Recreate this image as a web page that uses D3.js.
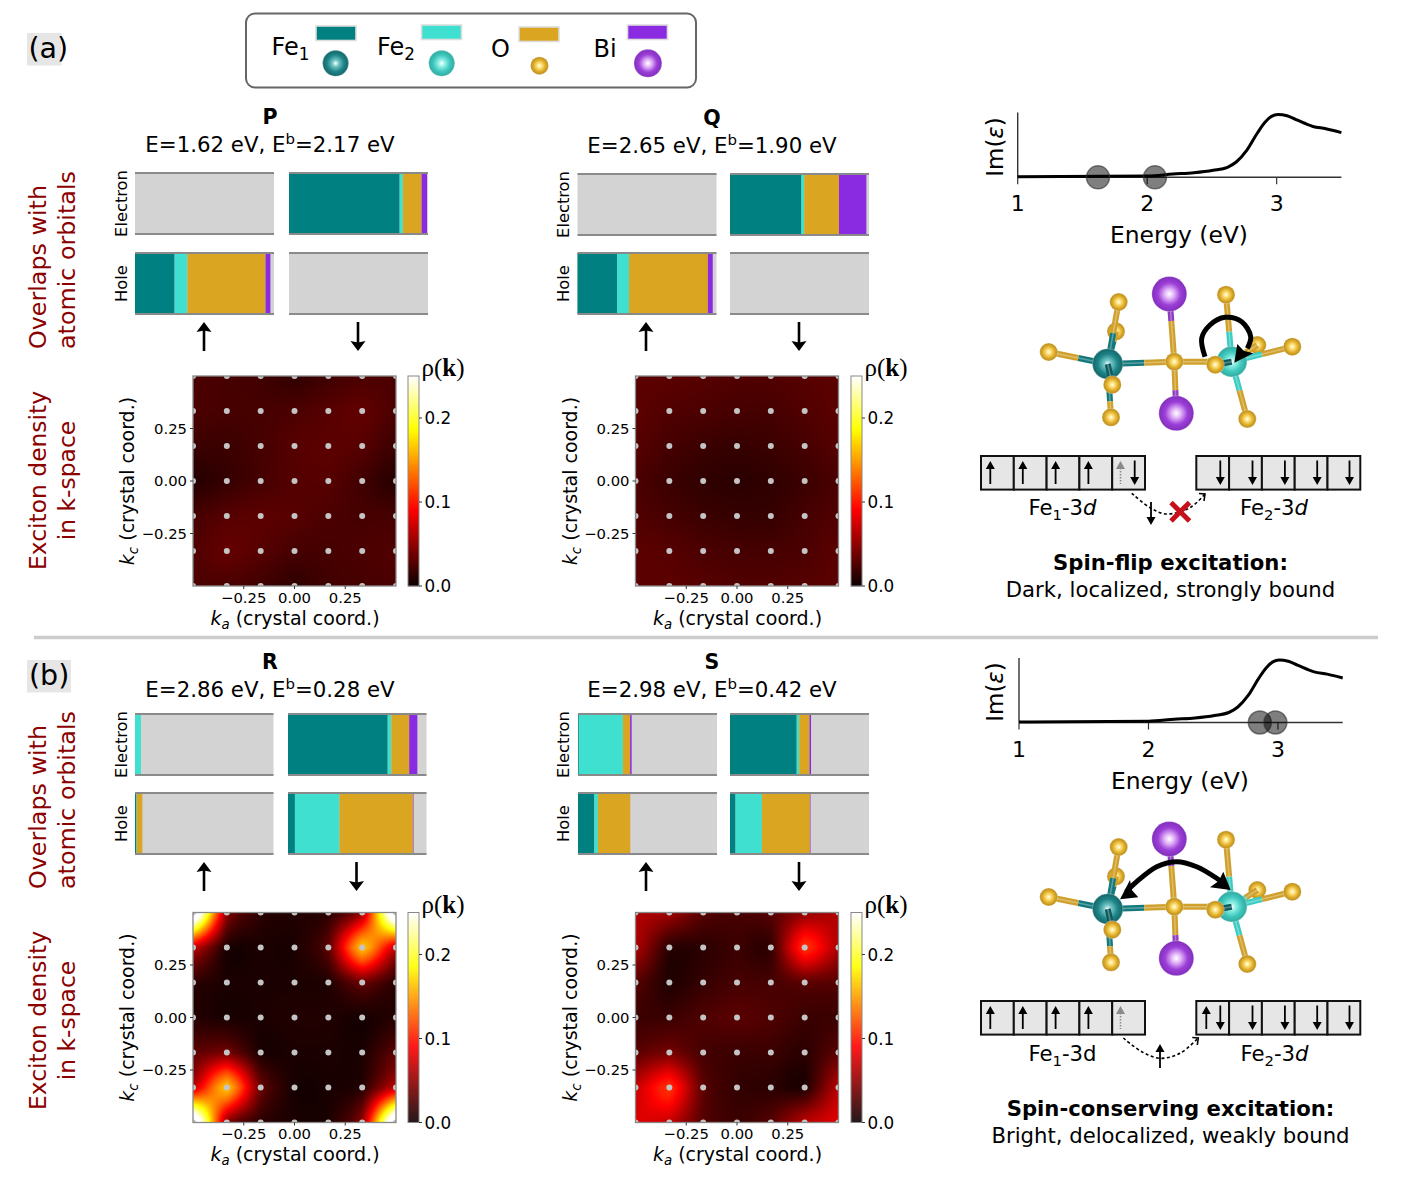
<!DOCTYPE html>
<html><head><meta charset="utf-8">
<script src="https://d3js.org/d3.v7.min.js"></script>
<style>html,body{margin:0;background:#fff;overflow:hidden}svg{display:block}text{font-family:"DejaVu Sans",sans-serif;fill:#000}</style>
</head><body><script>
// ---------- data ----------
const speciesNames = ["Fe1","Fe2","O","Bi"];
const speciesColors = ["#008080","#40e0d0","#daa520","#8a2be2"];
const excitonNames = ["P","Q","R","S"];
const excitonE = ["1.62","2.65","2.86","2.98"];
const excitonEb = ["2.17","1.90","0.28","0.42"];
// overlaps: [Fe1,Fe2,O,Bi] shares for electron up/down, hole up/down
const overlapP = [[0,0,0,0],[.796,.023,.135,.039],[.285,.092,.562,.035],[0,0,0,0]];
const overlapQ = [[0,0,0,0],[.514,.02,.25,.197],[.285,.086,.567,.035],[0,0,0,0]];
const overlapR = [[0,.043,0,0],[.72,.026,.129,.059],[.01,.003,.04,0],[.05,.322,.53,.004]];
const overlapS = [[.006,.317,.052,.011],[.48,.018,.074,.011],[.118,.026,.232,0],[.04,.19,.345,.004]];
// k-point grid and density on it (rows from +0.5 down to -0.5)
const kPoints = [-1/2,-1/3,-1/6,0,1/6,1/3,1/2];
const densityP = [
[.024,.022,.020,.014,.020,.024,.024],[.024,.022,.022,.024,.028,.032,.024],[.018,.018,.022,.028,.030,.028,.018],
[.010,.016,.022,.027,.028,.020,.010],[.022,.028,.030,.028,.024,.022,.022],[.026,.033,.028,.022,.022,.024,.026],[.024,.024,.020,.014,.020,.022,.024]];
const densityQ = [
[.030,.030,.028,.026,.026,.028,.030],[.030,.026,.024,.022,.022,.026,.030],[.028,.022,.018,.016,.018,.022,.028],
[.024,.018,.014,.012,.014,.018,.024],[.026,.022,.018,.016,.016,.022,.026],[.030,.028,.024,.022,.022,.024,.030],[.030,.030,.028,.026,.026,.028,.030]];
const densityR = [
[.31,.05,.012,.008,.012,.055,.31],[.07,.006,.006,.006,.03,.165,.07],[.012,.006,.006,.006,.008,.035,.012],
[.01,.005,.006,.008,.008,.004,.01],[.03,.04,.006,.006,.006,.006,.03],[.07,.165,.035,.004,.005,.01,.07],[.31,.05,.012,.006,.006,.05,.31]];
const densityS = [
[.062,.055,.028,.022,.028,.05,.062],[.06,.012,.012,.018,.015,.11,.06],[.028,.008,.016,.022,.022,.03,.028],
[.018,.018,.025,.029,.025,.018,.018],[.03,.04,.022,.018,.018,.012,.03],[.07,.11,.03,.015,.012,.008,.065],[.08,.07,.028,.018,.028,.065,.08]];
const kTicks = [-.25,0,.25];
const cbTicks = [0,.1,.2];
const cbMax = .25;
// absorption spectrum
const specE  = [1,2,2.2,2.36,2.51,2.62,2.69,2.77,2.85,2.91,2.96,3.01,3.08,3.15,3.28,3.38,3.5];
const specIm = [.008,.02,.05,.07,.108,.155,.24,.42,.68,.85,.94,.97,.95,.89,.785,.75,.69];
const specTicks = [1,2,3];
const markersA = [1.62,2.06];
const markersB = [2.86,2.98];

// ---------- helpers ----------
const svg = d3.select("body").append("svg").attr("width",1412).attr("height",1177);
const defs = svg.append("defs");
function rich(g,x,y,segs,o={}){
  const size=o.size||16, t=g.append("text").attr("x",x).attr("y",y).attr("font-size",size)
    .attr("text-anchor",o.anchor||"start");
  if(o.fill) t.style("fill",o.fill);
  if(o.family) t.style("font-family",o.family);
  if(o.rotate) t.attr("transform",`rotate(${o.rotate} ${x} ${y})`);
  let shift=0;
  (typeof segs==="string"?[{t:segs}]:segs).forEach(s=>{
    const want=s.sub?size*.22:s.sup?-size*.36:0;
    const sp=t.append("tspan").text(s.t).attr("dy",want-shift);
    shift=want;
    if(s.sub||s.sup) sp.attr("font-size",size*.7);
    if(s.i) sp.attr("font-style","italic");
    if(s.b||o.bold) sp.attr("font-weight","bold");
  });
  return t;
}
function ballGrad(id,c0,c1,c2){
  const g=defs.append("radialGradient").attr("id",id).attr("cx","50%").attr("cy","50%").attr("r","52%");
  [[0,"#fff"],[.25,c0],[.62,c1],[1,c2]].forEach(s=>g.append("stop").attr("offset",s[0]).attr("stop-color",s[1]));
}
ballGrad("gFe1","#6fc4c4","#1f8487","#106265");
ballGrad("gFe2","#8ff0e6","#3fc8bd","#2ea59c");
ballGrad("gO","#ffe27a","#dfae2c","#b58718");
ballGrad("gBi","#e4b8f8","#9c3fd8","#7e2cb8");
function ball(g,x,y,r,id){ g.append("circle").attr("cx",x).attr("cy",y).attr("r",r).attr("fill",`url(#${id})`).attr("stroke","#fff").attr("stroke-opacity",.5).attr("stroke-width",.6); }
function head(g,tip,a,b,fill){
  const n=[(a[0]+b[0])*.5*.85+tip[0]*.15,(a[1]+b[1])*.5*.85+tip[1]*.15];
  g.append("path").attr("d",d3.line()([tip,a,n,b])+"Z").attr("fill",fill||"#000");
}
function spin(g,x,y0,y1,up,o={}){
  const c=o.color||"#000";
  const tip=up?y0:y1, base=up?y1:y0, dir=up?1:-1, hl=o.hl||8, hw=o.hw||4.5;
  g.append("line").attr("x1",x).attr("x2",x).attr("y1",tip+dir*hl*.5).attr("y2",base)
    .attr("stroke",c).attr("stroke-width",o.w||1.8).attr("stroke-dasharray",o.dash||null);
  g.append("path").attr("d",d3.line()([[x,tip],[x+hw,tip+dir*hl],[x-hw,tip+dir*hl]])+"Z").attr("fill",c);
}

// ---------- legend ----------
svg.append("rect").attr("x",246).attr("y",13.5).attr("width",450).attr("height",74).attr("rx",9)
  .attr("fill","#fff").attr("stroke","#666").attr("stroke-width",2);
const legX=[316,421.5,519,627.5], legY=[26,25,27,25], ballX=[335.6,441.7,539.5,647.9], ballY=[63.3,63.3,65.7,63.3], ballR=[13,13,9,14];
const ballIds=["gFe1","gFe2","gO","gBi"];
const legTxt=[[{t:"Fe"},{t:"1",sub:1}],[{t:"Fe"},{t:"2",sub:1}],"O","Bi"], legTx=[271.5,377,491,593.5], legTy=[55,55,57,57];
speciesColors.forEach((c,i)=>{
  svg.append("rect").attr("x",legX[i]).attr("y",legY[i]).attr("width",40).attr("height",14.5).attr("fill",c).attr("stroke","#ddd").attr("stroke-width",1.6);
  ball(svg,ballX[i],ballY[i],ballR[i],ballIds[i]);
  rich(svg,legTx[i],legTy[i],legTxt[i],{size:24});
});

// ---------- panel labels ----------
[["(a)",27,33,34.5,28.5,58],["(b)",27,660,44,29,685]].forEach(l=>{
  svg.append("rect").attr("x",l[1]).attr("y",l[2]).attr("width",l[3]).attr("height",32.5).attr("fill","#e6e6e6");
  rich(svg,l[4],l[5],l[0],{size:28.5});
});
svg.append("line").attr("x1",34).attr("x2",1378).attr("y1",637.5).attr("y2",637.5).attr("stroke","#ccc").attr("stroke-width",3.5);
[[349,480.5],[889,1020.5]].forEach(c=>{
  rich(svg,46,c[0],"Overlaps with",{size:23.8,fill:"#8b0000",rotate:-90});
  rich(svg,75,c[0],"atomic orbitals",{size:23.8,fill:"#8b0000",rotate:-90});
  rich(svg,46,c[1],"Exciton density",{size:23.4,anchor:"middle",fill:"#8b0000",rotate:-90});
  rich(svg,75,c[1],"in k-space",{size:23.4,anchor:"middle",fill:"#8b0000",rotate:-90});
});

// ---------- overlap bars ----------
function bars(x1,x2,yE,yH,w,vals,rowX){
  const h=61;
  [[x1,yE,0],[x2,yE,1],[x1,yH,2],[x2,yH,3]].forEach(p=>{
    const sc=d3.scaleLinear().domain([0,1]).range([p[0],p[0]+w]);
    const g=svg.append("g");
    g.append("rect").attr("x",sc(0)).attr("y",p[1]).attr("width",w).attr("height",h).attr("fill","#d3d3d3");
    const cum=d3.cumsum(vals[p[2]]);
    g.selectAll("rect.s").data(vals[p[2]]).join("rect").attr("class","s")
      .attr("x",(d,i)=>sc(i?cum[i-1]:0)).attr("y",p[1]).attr("width",d=>sc(d)-sc(0)).attr("height",h)
      .attr("fill",(d,i)=>speciesColors[i]);
    [p[1],p[1]+h].forEach(y=>g.append("line").attr("x1",sc(0)).attr("x2",sc(1)).attr("y1",y).attr("y2",y).attr("stroke","#8a8a8a").attr("stroke-width",2.2));
  });
  rich(svg,rowX,yE+h/2,"Electron",{size:16.3,anchor:"middle",rotate:-90});
  rich(svg,rowX,yH+h/2,"Hole",{size:16.3,anchor:"middle",rotate:-90});
}
function bigArrow(x,y0,y1,up){
  const tip=up?y0:y1, base=up?y1:y0, d=up?1:-1;
  svg.append("line").attr("x1",x).attr("x2",x).attr("y1",tip+d*3).attr("y2",base).attr("stroke","#000").attr("stroke-width",2.6);
  head(svg,[x,tip],[x+7.5,tip+d*10],[x-7.5,tip+d*10]);
}

// ---------- density maps ----------
const hot=d3.scaleLinear().domain([0,.365,.746,1].map(t=>t*cbMax))
  .range(["rgb(11,0,0)","rgb(255,0,0)","rgb(255,255,0)","rgb(255,255,255)"]).clamp(true);
function cat(p0,p1,p2,p3,t){return .5*(2*p1+(p2-p0)*t+(2*p0-5*p1+4*p2-p3)*t*t+(3*p1-p0-3*p2+p3)*t*t*t);}
function sampleGrid(grid,u,v){ // u,v in grid units; half cubic, half linear, as the smoothed map looks
  const n=grid.length, c=(a)=>Math.max(0,Math.min(n-1,a));
  const i=Math.min(n-2,Math.floor(u)), j=Math.min(n-2,Math.floor(v)), tx=u-i, ty=v-j;
  const rows=[-1,0,1,2].map(dj=>{const r=grid[c(j+dj)];return cat(r[c(i-1)],r[c(i)],r[c(i+1)],r[c(i+2)],tx);});
  const cub=cat(rows[0],rows[1],rows[2],rows[3],ty);
  const a=grid[j],b=grid[j+1];
  const lin=(a[i]*(1-tx)+a[i+1]*tx)*(1-ty)+(b[i]*(1-tx)+b[i+1]*tx)*ty;
  return Math.max(0,.5*cub+.5*lin);
}
let clipN=0;
function heat(x0,y0,grid,cbX){
  const W=203,H=210;
  const xs=d3.scaleLinear().domain([-.5,.5]).range([x0,x0+W]);
  const ys=d3.scaleLinear().domain([-.5,.5]).range([y0+H,y0]);
  const cv=document.createElement("canvas");cv.width=W;cv.height=H;
  const ctx=cv.getContext("2d");
  const gu=d3.scaleLinear().domain([0,W]).range([0,grid.length-1]), gv=d3.scaleLinear().domain([0,H]).range([0,grid.length-1]);
  for(let j=0;j<H;j++)for(let i=0;i<W;i++){ctx.fillStyle=hot(sampleGrid(grid,gu(i+.5),gv(j+.5)));ctx.fillRect(i,j,1,1);}
  const g=svg.append("g");
  g.append("image").attr("x",x0).attr("y",y0).attr("width",W).attr("height",H).attr("href",cv.toDataURL());
  const id="clip"+(clipN++);
  defs.append("clipPath").attr("id",id).append("rect").attr("x",x0).attr("y",y0).attr("width",W).attr("height",H);
  const pts=g.append("g").attr("clip-path",`url(#${id})`);
  kPoints.forEach(kx=>kPoints.forEach(ky=>pts.append("circle").attr("cx",xs(kx)).attr("cy",ys(ky)).attr("r",3).attr("fill","#c4c4c4")));
  g.append("rect").attr("x",x0).attr("y",y0).attr("width",W).attr("height",H).attr("fill","none").attr("stroke","#888").attr("stroke-width",1.3);
  const fmt=v=>(v<0?"\u2212":"")+Math.abs(v).toFixed(2);
  kTicks.forEach(k=>{
    g.append("line").attr("x1",xs(k)).attr("x2",xs(k)).attr("y1",y0+H).attr("y2",y0+H+3).attr("stroke","#333");
    g.append("line").attr("x1",x0-3).attr("x2",x0).attr("y1",ys(k)).attr("y2",ys(k)).attr("stroke","#333");
    rich(g,xs(k),y0+H+16.5,fmt(k),{size:14.8,anchor:"middle"});
    rich(g,x0-6,ys(k)+5,fmt(k),{size:14.8,anchor:"end"});
  });
  rich(g,x0+102,y0+H+38.5,[{t:"k",i:1},{t:"a",i:1,sub:1},{t:" (crystal coord.)"}],{size:19,anchor:"middle"});
  rich(g,x0-59,y0+H/2,[{t:"k",i:1},{t:"c",i:1,sub:1},{t:" (crystal coord.)"}],{size:19,anchor:"middle",rotate:-90});
  // colourbar
  const cb=d3.scaleLinear().domain([0,cbMax]).range([y0+H,y0]);
  d3.range(0,H).forEach(k=>g.append("rect").attr("x",cbX).attr("y",y0+H-k-1).attr("width",11).attr("height",1.3).attr("fill",hot(cb.invert(y0+H-k-.5))));
  g.append("rect").attr("x",cbX).attr("y",y0).attr("width",11).attr("height",H).attr("fill","none").attr("stroke","#888").attr("stroke-width",1);
  cbTicks.forEach(v=>{
    g.append("line").attr("x1",cbX+11).attr("x2",cbX+14).attr("y1",cb(v)).attr("y2",cb(v)).attr("stroke","#333");
    rich(g,cbX+16.5,cb(v)+6,v.toFixed(1),{size:16.8});
  });
  rich(g,cbX+13.5,y0,[{t:"\u03c1("},{t:"k",b:1},{t:")"}],{size:25,family:"'Liberation Serif',serif"});
}
function block(name,ind,xc,yTitle,yE,yH,x1,x2,w,vals,rowX,arrows,yA,hx,hy,grid,cbX){
  rich(svg,xc,yTitle,name,{size:20.5,anchor:"middle",bold:1});
  rich(svg,xc,yTitle+28,[{t:`E=${excitonE[ind]} eV, E`},{t:"b",sup:1},{t:`=${excitonEb[ind]} eV`}],{size:21.3,anchor:"middle"});
  bars(x1,x2,yE,yH,w,vals,rowX);
  bigArrow(arrows[0],yA,yA+29,true); bigArrow(arrows[1],yA,yA+29,false);
  heat(hx,hy,grid,cbX);
}
block("P",0,270,124,173,253,135,289,139,overlapP,127,[204,358],322,193,376,densityP,408);
block("Q",1,712,125,174,253,577.5,730,139,overlapQ,569,[646,799],322,635.5,376,densityQ,851);
block("R",2,270,669,714,793,135,288,138.5,overlapR,127,[204,356.5],862,193,912.5,densityR,408);
block("S",3,712,669,714,793,578,730,139,overlapS,569,[646,799],862,635.5,912.5,densityS,851);

// ---------- spectra ----------
function spectrum(x1,yTop,yBase,markers,imX,imY,tickB,labB,labX){
  const xs=d3.scaleLinear().domain([1,3.5]).range([x1,x1+323.7]);
  const ys=d3.scaleLinear().domain([0,1]).range([yBase,yBase-(yBase-yTop)]);
  const g=svg.append("g");
  g.append("line").attr("x1",x1).attr("x2",x1).attr("y1",yTop).attr("y2",yBase).attr("stroke","#333").attr("stroke-width",1.4);
  g.append("line").attr("x1",x1).attr("x2",xs(3.5)).attr("y1",yBase).attr("y2",yBase).attr("stroke","#333").attr("stroke-width",1.4);
  specTicks.forEach(t=>{
    g.append("line").attr("x1",xs(t)).attr("x2",xs(t)).attr("y1",yBase).attr("y2",yBase+7).attr("stroke","#333").attr("stroke-width",1.2);
    rich(g,xs(t),tickB,String(t),{size:22,anchor:"middle"});
  });
  g.append("path").attr("d",d3.line().x(d=>xs(d[0])).y(d=>ys(d[1])).curve(d3.curveMonotoneX)(d3.zip(specE,specIm)))
    .attr("fill","none").attr("stroke","#000").attr("stroke-width",3);
  markers.forEach(m=>g.append("circle").attr("cx",xs(m)).attr("cy",yBase).attr("r",11.5)
    .attr("fill","#000").attr("fill-opacity",.5).attr("stroke","#333").attr("stroke-opacity",.6).attr("stroke-width",1.5));
  rich(g,labX,labB,"Energy (eV)",{size:23.4,anchor:"middle"});
  rich(g,imX,imY,[{t:"Im("},{t:"\u03b5",i:1},{t:")"}],{size:23,anchor:"middle",rotate:-90});
}
spectrum(1017.7,112.5,177.3,markersA,1003,147,211,243,1179);
spectrum(1019,658,722.5,markersB,1003,692,757,789,1180);

// ---------- molecule ----------
// schematic atoms: [x,y]
const A={Fe1:[1107.7,364],Fe2:[1231.7,361.7],Oc:[1174.3,361.7],BiT:[1169.3,294],BiB:[1176.3,413.3],
 O1:[1118.7,302],O2:[1116,331.3],O3:[1048.7,352],O4:[1112.3,384.7],O5:[1111,417.3],
 O6:[1226,294.7],O7:[1257.3,345],O8:[1292.3,346.7],O9:[1215.3,364.7],O10:[1247.3,419]};
function stick(g,a,b,c1,c2,f){
  const m=[a[0]+(b[0]-a[0])*f,a[1]+(b[1]-a[1])*f];
  [[a,m,c1],[m,b,c2]].forEach(s=>{
    g.append("line").attr("x1",s[0][0]).attr("y1",s[0][1]).attr("x2",s[1][0]).attr("y2",s[1][1]).attr("stroke",s[2]).attr("stroke-width",6);
    g.append("line").attr("x1",s[0][0]).attr("y1",s[0][1]).attr("x2",s[1][0]).attr("y2",s[1][1]).attr("stroke","#fff").attr("stroke-opacity",.3).attr("stroke-width",1.5);
  });
}
function molecule(dy,dx){
  const g=svg.append("g").attr("transform",`translate(${dx},${dy})`);
  const teal="#13797c", tur="#3cccc2", gold="#cfa02c", pur="#8e3cc0", r=9;
  ball(g,...A.O2,r,"gO"); ball(g,...A.O7,r,"gO");
  stick(g,A.Fe1,A.O2,teal,gold,.7); stick(g,A.Fe2,A.O7,tur,gold,.55);
  stick(g,A.Oc,A.BiT,gold,pur,.6); stick(g,A.Oc,A.BiB,gold,pur,.55);
  ball(g,...A.BiT,17.5,"gBi"); ball(g,...A.BiB,17.5,"gBi");
  stick(g,A.Fe1,A.O1,teal,gold,.5); stick(g,A.Fe1,A.O3,teal,gold,.5); stick(g,A.Fe1,A.O5,teal,gold,.7);
  stick(g,A.Fe1,A.Oc,teal,gold,.55); stick(g,A.Fe2,A.Oc,tur,gold,.42);
  stick(g,A.Fe2,A.O6,tur,gold,.45); stick(g,A.Fe2,A.O8,tur,gold,.5); stick(g,A.Fe2,A.O10,tur,gold,.5);
  ["O1","O3","O5","O6","O8","O10","Oc"].forEach(k=>ball(g,...A[k],r,"gO"));
  ball(g,...A.Fe1,15.3,"gFe1"); ball(g,...A.Fe2,15.3,"gFe2");
  stick(g,A.Fe1,A.O4,"#0e5a5d",gold,.6); stick(g,A.Fe2,A.O9,"#0e5a5d",gold,.6);
  ball(g,...A.O4,r,"gO"); ball(g,...A.O9,r,"gO");
}
molecule(0,0); molecule(545,0);
const smooth=d3.line().curve(d3.curveCatmullRom);
// curved arrows
svg.append("path").attr("d",smooth([[1205,356.7],[1201.7,338.3],[1210,325],[1225,317.3],[1241.7,321.7],[1250.7,336.7],[1247.3,348.3]]))
  .attr("fill","none").attr("stroke","#000").attr("stroke-width",5);
head(svg,[1234.3,362.7],[1237.3,344],[1253.3,353.3]);
svg.append("path").attr("d",smooth([[1126,892],[1136.7,881.7],[1156.7,866.7],[1176.7,861.7],[1196.7,866.7],[1216.7,878.3],[1224,884]]))
  .attr("fill","none").attr("stroke","#000").attr("stroke-width",5);
head(svg,[1120,899.3],[1130,880],[1138.3,897.3]);
head(svg,[1230.7,890],[1210,887.3],[1223.3,871.7]);

// ---------- orbital boxes ----------
function orbitals(y,x0,ups,downs,ghost){
  const W=32.8,H=33.6;
  const g=svg.append("g");
  d3.range(5).forEach(i=>g.append("rect").attr("x",x0+i*W).attr("y",y).attr("width",W).attr("height",H).attr("fill","#e6e6e6").attr("stroke","#111").attr("stroke-width",2));
  ups.forEach(i=>spin(g,x0+i[0]*W+i[1],y+5,y+28,true));
  downs.forEach(i=>spin(g,x0+i[0]*W+i[1],y+4.5,y+29,false));
  if(ghost!==undefined) spin(g,x0+ghost[0]*W+ghost[1],y+5,y+28,true,{color:"#8a8a8a",dash:"1.5 1.5",w:1.6});
}
orbitals(456,981,[[0,9.3],[1,9],[2,9],[3,9]],[[4,22.5]],[4,8.3]);
orbitals(456,1196.3,[],[[0,24],[1,23.4],[2,23],[3,22.5],[4,22]]);
orbitals(1001,981,[[0,9.3],[1,9],[2,9],[3,9]],[],[4,8.3]);
orbitals(1001,1196.3,[[0,10]],[[0,24],[1,23.4],[2,23],[3,22.5],[4,22]]);
function dashed(pts){
  svg.append("path").attr("d",smooth(pts)).attr("fill","none").attr("stroke","#000").attr("stroke-width",1.6).attr("stroke-dasharray","3 2.5");
  const e=pts[pts.length-1];
  svg.append("path").attr("d",d3.line()([[e[0]-6,e[1]-.5],e,[e[0]-1,e[1]+7]])).attr("fill","none").attr("stroke","#000").attr("stroke-width",1.6);
}
dashed([[1131.7,493.3],[1151,508.3],[1166.7,514],[1190,507.7],[1205,494]]);
dashed([[1123.3,1038],[1141.7,1051.7],[1160,1058.3],[1180,1053.3],[1198.3,1038]]);
spin(svg,1151,502,525,false);
spin(svg,1160,1044,1068,true);
[[[1171,502.5],[1189.5,521]],[[1189.5,502.5],[1171,521]]].forEach(s=>svg.append("line")
  .attr("x1",s[0][0]).attr("y1",s[0][1]).attr("x2",s[1][0]).attr("y2",s[1][1]).attr("stroke","#c8101a").attr("stroke-width",5));
rich(svg,1062.5,515,[{t:"Fe"},{t:"1",sub:1},{t:"-3"},{t:"d",i:1}],{size:21.2,anchor:"middle"});
rich(svg,1274,515,[{t:"Fe"},{t:"2",sub:1},{t:"-3"},{t:"d",i:1}],{size:21.2,anchor:"middle"});
rich(svg,1062.5,1061,[{t:"Fe"},{t:"1",sub:1},{t:"-3d"}],{size:21.2,anchor:"middle"});
rich(svg,1274.5,1061,[{t:"Fe"},{t:"2",sub:1},{t:"-3"},{t:"d",i:1}],{size:21.2,anchor:"middle"});
rich(svg,1170.5,570,"Spin-flip excitation:",{size:21.2,anchor:"middle",bold:1});
rich(svg,1170.5,597,"Dark, localized, strongly bound",{size:21.2,anchor:"middle"});
rich(svg,1170.5,1116,"Spin-conserving excitation:",{size:21.2,anchor:"middle",bold:1});
rich(svg,1170.5,1143,"Bright, delocalized, weakly bound",{size:21.2,anchor:"middle"});
</script></body></html>
